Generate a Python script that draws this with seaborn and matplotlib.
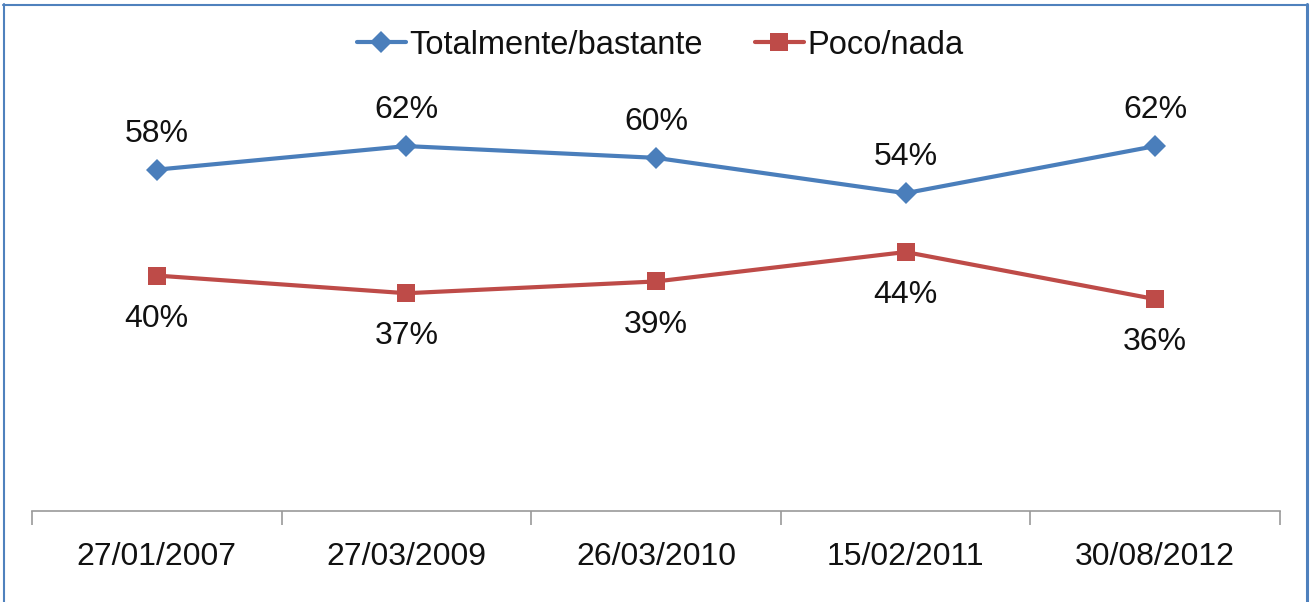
import matplotlib
matplotlib.use("Agg")
import matplotlib.pyplot as plt
import seaborn as sns
import pandas as pd
from matplotlib.lines import Line2D

dates = ["27/01/2007", "27/03/2009", "26/03/2010", "15/02/2011", "30/08/2012"]
totalmente = [58, 62, 60, 54, 62]
poco = [40, 37, 39, 44, 36]
series_names = ["Totalmente/bastante", "Poco/nada"]

blue = "#4A7EBB"
red = "#BE4B48"

sns.set_theme(style="white")
plt.rcParams["font.family"] = ["Liberation Sans", "DejaVu Sans"]

df = pd.DataFrame({
    "fecha": dates * 2,
    "valor": totalmente + poco,
    "serie": [series_names[0]] * len(dates) + [series_names[1]] * len(dates),
})
df["x"] = list(range(len(dates))) * 2

FS = 23
W, H = 1314, 602
fig = plt.figure(figsize=(W / 100, H / 100), dpi=100)
ax = fig.add_axes([32 / W, 1 - 511 / H, (1280 - 32) / W, (511 - 99) / H])

sns.lineplot(data=df, x="x", y="valor", hue="serie", style="serie",
             palette=[blue, red], markers=["D", "s"], dashes=False,
             linewidth=3, markersize=12, markeredgewidth=0, ax=ax, legend=False)
for ln, ms in zip(ax.lines, [11, 13]):
    ln.set_markersize(ms)

ax.set_xlim(-0.5, len(dates) - 0.5)
ax.set_ylim(0, 70)
ax.set_yticks([])
ax.set_xlabel("")
ax.set_ylabel("")
ax.set_xticks(range(len(dates)))
ax.set_xticklabels(dates, fontsize=FS, color="#111111")
ax.set_xticks([i - 0.5 for i in range(len(dates) + 1)], minor=True)
ax.tick_params(axis="x", which="major", bottom=False, length=0, pad=22)
ax.tick_params(axis="x", which="minor", bottom=True, length=10, width=1.2,
               color="#999999", direction="out")
for s in ["top", "left", "right"]:
    ax.spines[s].set_visible(False)
ax.spines["bottom"].set_color("#999999")
ax.spines["bottom"].set_linewidth(1.2)

for i, v in enumerate(totalmente):
    ax.annotate(f"{v}%", (i, v), xytext=(0, 26), textcoords="offset points",
                ha="center", va="center", fontsize=FS, color="#111111")
for i, v in enumerate(poco):
    ax.annotate(f"{v}%", (i, v), xytext=(0, -31), textcoords="offset points",
                ha="center", va="center", fontsize=FS, color="#111111")

handles = [
    Line2D([], [], color=blue, lw=3, marker="D", markersize=11, markeredgewidth=0),
    Line2D([], [], color=red, lw=3, marker="s", markersize=13, markeredgewidth=0),
]
fig.legend(handles, series_names, loc="center", bbox_to_anchor=(660 / W, 1 - 45 / H),
           ncol=2, frameon=False, fontsize=FS + 0.5, handlelength=1.5, handletextpad=0.1,
           columnspacing=1.6, labelcolor="#111111")

bc = "#4F81BD"
fig.add_artist(Line2D([3 / W, 1307 / W], [1 - 4.5 / H, 1 - 4.5 / H], color=bc, lw=1.5, transform=fig.transFigure))
fig.add_artist(Line2D([3.5 / W, 3.5 / W], [0, 1 - 4 / H], color=bc, lw=1.5, transform=fig.transFigure))
fig.add_artist(Line2D([1307 / W, 1307 / W], [0, 1 - 4 / H], color=bc, lw=2.2, transform=fig.transFigure))

fig.savefig("out.png", dpi=100)
